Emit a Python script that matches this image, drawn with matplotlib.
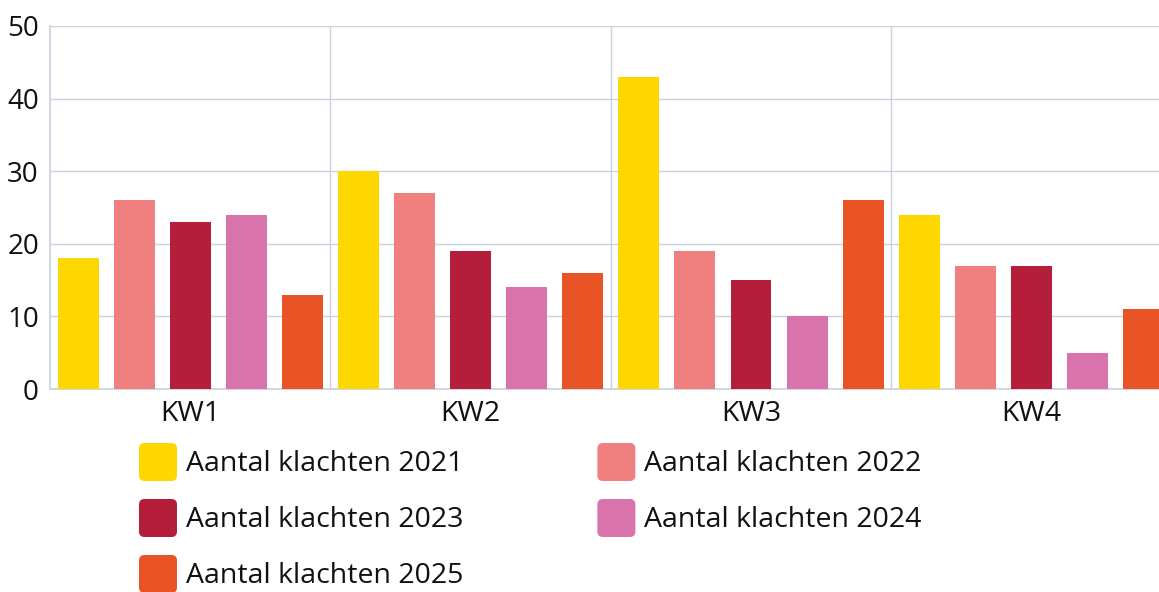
import matplotlib
matplotlib.use("Agg")
import matplotlib.pyplot as plt
import numpy as np
from matplotlib.patches import Patch, FancyBboxPatch
from matplotlib.legend_handler import HandlerPatch

categories = ["KW1", "KW2", "KW3", "KW4"]
series_names = ["Aantal klachten 2021", "Aantal klachten 2022", "Aantal klachten 2023",
                "Aantal klachten 2024", "Aantal klachten 2025"]
v2021 = [18, 30, 43, 24]
v2022 = [26, 27, 19, 17]
v2023 = [23, 19, 15, 17]
v2024 = [24, 14, 10, 5]
v2025 = [13, 16, 26, 11]
colors = ["#FFD700", "#F08080", "#B51E3A", "#D973AB", "#E95426"]
yticks = [0, 10, 20, 30, 40, 50]

series = [v2021, v2022, v2023, v2024, v2025]

W, H = 1159, 592
fig = plt.figure(figsize=(W / 100, H / 100), dpi=100)
plt.rcParams['font.family'] = ['Open Sans', 'DejaVu Sans']

left, top, bottom = 50, 26, 389
cat_w = 280.4
ax = fig.add_axes([left / W, 1 - bottom / H, 4 * cat_w / W, (bottom - top) / H])

x = np.arange(len(categories))
grid_c = "#cad1dc"
bw = 0.146
step = 0.2
for i, (vals, c) in enumerate(zip(series, colors)):
    ax.bar(x + (i - 2) * step, vals, width=bw, color=c, zorder=3, label=series_names[i])

ax.set_xlim(-0.5, 3.5)
ax.set_ylim(0, 50)
ax.set_yticks(yticks)
ax.set_xticks(x)
ax.set_xticklabels(categories)
ax.set_xticks([0.5, 1.5, 2.5], minor=True)
ax.grid(axis='y', color=grid_c, linewidth=1, zorder=0)
ax.grid(axis='x', which='minor', color=grid_c, linewidth=1, zorder=0)
ax.grid(axis='x', which='major', visible=False)
ax.tick_params(axis='y', which='both', length=0, labelsize=20, colors='#111111', pad=8)
ax.tick_params(axis='x', which='both', length=0, labelsize=20.5, colors='#111111', pad=8)
for s in ['top', 'right']:
    ax.spines[s].set_visible(False)
for s in ['left', 'bottom']:
    ax.spines[s].set_color(grid_c)
    ax.spines[s].set_linewidth(1.2)


class RoundHandler(HandlerPatch):
    def create_artists(self, legend, orig_handle, xdescent, ydescent, width, height, fontsize, trans):
        p = FancyBboxPatch((-xdescent, -ydescent), width, height,
                           boxstyle="round,pad=0,rounding_size=4",
                           fc=orig_handle.get_facecolor(), ec='none', transform=trans)
        return [p]


handles = [Patch(facecolor=c) for c in colors]
order = [0, 2, 4, 1, 3]
fs = 20.5
fs_px = fs * 100 / 72
sq = 38 / fs_px
hh = (sq - 0.245) / 0.65
leg = fig.legend([handles[i] for i in order], [series_names[i] for i in order],
                 ncol=2, loc='upper left', bbox_to_anchor=(139 / W, 1 - 443 / H),
                 frameon=False, fontsize=fs, borderpad=0, borderaxespad=0,
                 handlelength=sq, handleheight=hh,
                 handletextpad=9 / fs_px, labelspacing=18 / fs_px,
                 columnspacing=134 / fs_px,
                 handler_map={Patch: RoundHandler()})
for t in leg.get_texts():
    t.set_color('#111111')

fig.savefig("out.png", dpi=100)
